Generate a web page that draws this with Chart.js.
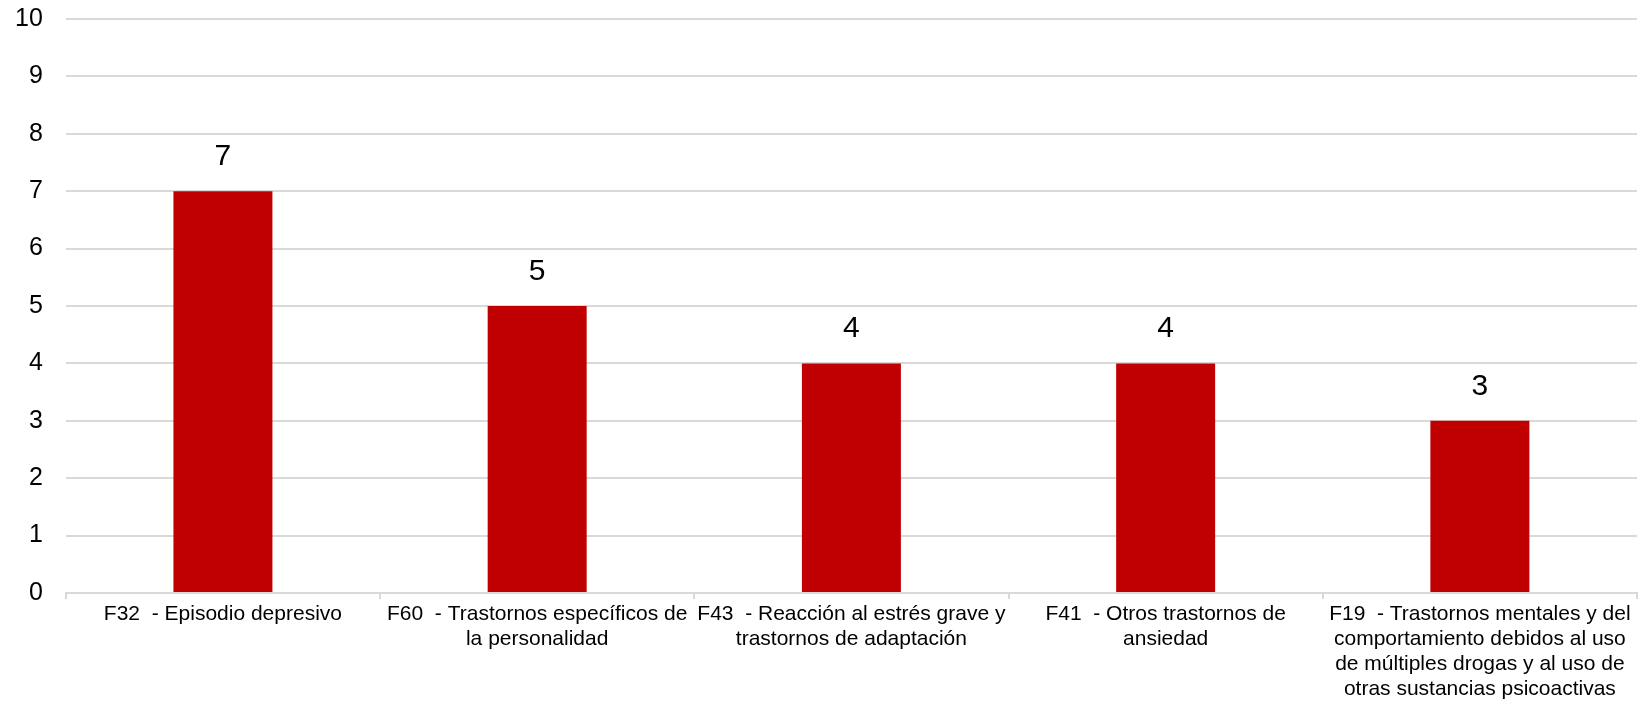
<!DOCTYPE html>
<html lang="es">
<head>
<meta charset="utf-8">
<title>Diagnósticos</title>
<script src="https://cdn.jsdelivr.net/npm/chart.js@4/dist/chart.umd.min.js"></script>
<style>
    html, body { margin: 0; padding: 0; background: #ffffff; }
    #wrap { width: 1642px; height: 705px; }
</style>
</head>
<body>
<div id="wrap"><canvas id="diagnosis-chart"></canvas></div>
<script>
// Category labels, already split in lines like the original
const categories = [
    ['F32  - Episodio depresivo'],
    ['F60  - Trastornos específicos de', 'la personalidad'],
    ['F43  - Reacción al estrés grave y', 'trastornos de adaptación'],
    ['F41  - Otros trastornos de', 'ansiedad'],
    ['F19  - Trastornos mentales y del', 'comportamiento debidos al uso', 'de múltiples drogas y al uso de', 'otras sustancias psicoactivas']
];
// Number of cases for each diagnosis
const cases = [7, 5, 4, 4, 3];
// Y axis range
const yMin = 0;
const yMax = 10;
const yStep = 1;

const fontFamily = "'Liberation Sans', Arial, sans-serif";

// Draw the value above each bar
const valueLabels = {
    id: 'valueLabels',
    afterDatasetsDraw(chart) {
        const ctx = chart.ctx;
        const meta = chart.getDatasetMeta(0);
        ctx.save();
        ctx.font = '30px ' + fontFamily;
        ctx.fillStyle = '#000000';
        ctx.textAlign = 'center';
        ctx.textBaseline = 'alphabetic';
        meta.data.forEach((bar, i) => {
            ctx.fillText(String(cases[i]), bar.x, bar.y - 26);
        });
        ctx.restore();
    }
};

document.addEventListener('DOMContentLoaded', function () {
    const canvas = document.getElementById('diagnosis-chart');
    const diagnosisChart = new Chart(canvas, {
        type: 'bar',
        data: {
            labels: categories,
            datasets: [{
                label: 'Casos',
                data: cases,
                backgroundColor: '#c00000',
                borderWidth: 0,
                barPercentage: 0.315,
                categoryPercentage: 1
            }]
        },
        options: {
            responsive: true,
            maintainAspectRatio: false,
            animation: false,
            layout: { padding: { top: 19, left: 15, right: 5, bottom: 0 } },
            plugins: {
                legend: { display: false },
                tooltip: { enabled: false }
            },
            scales: {
                x: {
                    grid: {
                        offset: true,
                        drawOnChartArea: false,
                        drawTicks: true,
                        tickLength: 6,
                        color: '#d9d9d9',
                        lineWidth: 2
                    },
                    border: { display: true, color: '#d9d9d9', width: 2 },
                    ticks: {
                        autoSkip: false,
                        maxRotation: 0,
                        minRotation: 0,
                        padding: 3,
                        color: '#000000',
                        font: { family: fontFamily, size: 21, lineHeight: 1.18 }
                    },
                    // keep the axis band as tall as in the original
                    afterFit(scale) {
                        scale.height = 112;
                    }
                },
                y: {
                    min: yMin,
                    max: yMax,
                    grid: {
                        color: '#d9d9d9',
                        lineWidth: 2,
                        drawTicks: true,
                        tickLength: 23,
                        tickColor: 'rgba(0,0,0,0)'
                    },
                    border: { display: false },
                    ticks: {
                        stepSize: yStep,
                        padding: 0,
                        color: '#000000',
                        font: { family: fontFamily, size: 25 }
                    }
                }
            }
        },
        plugins: [valueLabels]
    });
});
</script>
</body>
</html>
